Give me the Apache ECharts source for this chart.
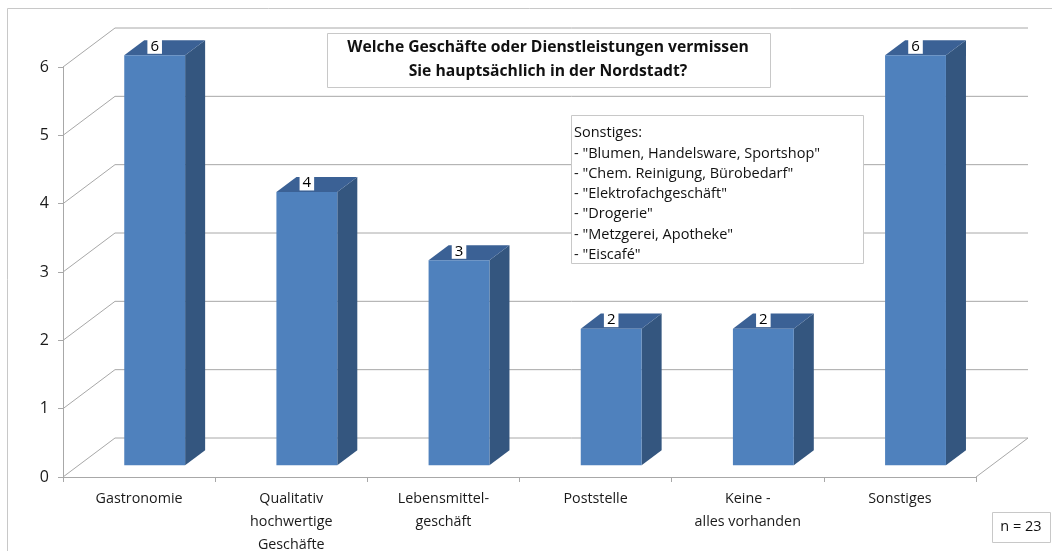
<!DOCTYPE html>
<html>
<head>
<meta charset="utf-8">
<script src="https://cdn.jsdelivr.net/npm/echarts@6/dist/echarts.min.js"></script>
<style>
  html, body { margin: 0; padding: 0; background: #fff; }
  #chart { width: 1052px; height: 551px; }
</style>
</head>
<body>
<div id="chart"></div>
<script>
// data
const categories = [
  'Gastronomie',
  'Qualitativ\nhochwertige\nGeschäfte',
  'Lebensmittel-\ngeschäft',
  'Poststelle',
  'Keine -\nalles vorhanden',
  'Sonstiges'
]
const counts = [6, 4, 3, 2, 2, 6]
const yTicks = [0, 1, 2, 3, 4, 5, 6]

const titleText = 'Welche Geschäfte oder Dienstleistungen vermissen\nSie hauptsächlich in der Nordstadt?'
const noteLines = [
  'Sonstiges:',
  '- "Blumen, Handelsware, Sportshop"',
  '- "Chem. Reinigung, Bürobedarf"',
  '- "Elektrofachgeschäft"',
  '- "Drogerie"',
  '- "Metzgerei, Apotheke"',
  '- "Eiscafé"'
]
const sampleText = 'n = 23'

// fake 3d depth of the plot (pixels)
const DX = 52
const DY = -39
const BAR_FRONT = 0.3   // where the bar front face sits in depth
const BAR_DEPTH = 0.385 // bar depth as part of the full depth
const FONT = '"Open Sans", Lato, sans-serif'
const GRID_COLOR = '#a8a8a8'
const BOX_Z = 100

const chart = echarts.init(document.getElementById('chart'))

const renderWalls = (params, api) => {
  const v = api.value(1)
  const cs = params.coordSys
  const y = api.coord([0, v])[1]
  const x0 = cs.x
  const x1 = cs.x + cs.width
  const children = [
    // back wall line
    { type: 'line', shape: { x1: x0 + DX, y1: y + DY, x2: x1 + DX, y2: y + DY },
      style: { stroke: GRID_COLOR, lineWidth: 1 } },
    // side wall line
    { type: 'line', shape: { x1: x0, y1: y, x2: x0 + DX, y2: y + DY },
      style: { stroke: GRID_COLOR, lineWidth: 1 } }
  ]
  if (v === 0) {
    children.push({ type: 'line', shape: { x1: x1, y1: y, x2: x1 + DX, y2: y + DY },
      style: { stroke: GRID_COLOR, lineWidth: 1 } })
  }
  return { type: 'group', children }
}

const renderBar = (params, api) => {
  const i = api.value(0)
  const v = api.value(1)
  const base = api.coord([i, 0])
  const top = api.coord([i, v])
  const bw = api.size([1, 0])[0]
  const w = bw * 0.4
  const ox = BAR_FRONT * DX
  const oy = BAR_FRONT * DY
  const dx = BAR_DEPTH * DX
  const dy = BAR_DEPTH * DY
  const xl = base[0] - w / 2 + ox
  const xr = base[0] + w / 2 + ox
  const yb = base[1] + oy
  const yt = top[1] + oy
  return {
    type: 'group',
    children: [
      { type: 'polygon', shape: { points: [[xr, yt], [xr + dx, yt + dy], [xr + dx, yb + dy], [xr, yb]] },
        style: { fill: '#34567f' } },
      { type: 'polygon', shape: { points: [[xl, yt], [xl + dx, yt + dy], [xr + dx, yt + dy], [xr, yt]] },
        style: { fill: '#3b6195' } },
      { type: 'rect', shape: { x: xl, y: yt, width: xr - xl, height: yb - yt },
        style: { fill: '#4f81bd' } },
      { type: 'text', x: base[0] + ox, y: yt - 9,
        style: { text: String(v), fill: '#000', font: '15px ' + FONT, align: 'center',
          verticalAlign: 'middle', backgroundColor: '#fff', padding: [0, 3, 0, 3] } }
    ]
  }
}

const option = {
  animation: false,
  backgroundColor: '#fff',
  grid: { left: 63, top: 67, width: 913, height: 410, outerBoundsMode: 'none', containLabel: false },
  xAxis: {
    type: 'category',
    data: categories,
    axisLine: { lineStyle: { color: GRID_COLOR } },
    axisTick: { show: true, length: 5, lineStyle: { color: GRID_COLOR } },
    axisLabel: { color: '#1a1a1a', fontSize: 14.3, fontFamily: FONT, lineHeight: 23, margin: 10, interval: 0 }
  },
  yAxis: {
    type: 'value',
    min: 0,
    max: 6,
    interval: 1,
    axisLine: { show: true, lineStyle: { color: GRID_COLOR } },
    axisTick: { show: true, length: 5, lineStyle: { color: GRID_COLOR } },
    axisLabel: { color: '#1a1a1a', fontSize: 16, fontFamily: FONT, margin: 14 },
    splitLine: { show: false }
  },
  series: [
    {
      type: 'custom',
      renderItem: renderWalls,
      data: yTicks.map(v => [0, v]),
      silent: true,
      z: 1
    },
    {
      type: 'custom',
      renderItem: renderBar,
      data: counts.map((v, i) => [i, v]),
      z: 2
    }
  ],
  graphic: [
    { type: 'line', shape: { x1: 7.5, y1: 8.5, x2: 1052, y2: 8.5 }, style: { stroke: '#c8c8c8', lineWidth: 1 } },
    { type: 'line', shape: { x1: 7.5, y1: 8.5, x2: 7.5, y2: 551 }, style: { stroke: '#c8c8c8', lineWidth: 1 } },
    { type: 'rect', shape: { x: 327.5, y: 33.5, width: 443, height: 54 }, z: BOX_Z,
      style: { fill: '#fff', stroke: '#c8c8c8', lineWidth: 1 } },
    { type: 'text', x: 548, y: 60, z: BOX_Z + 1,
      style: { text: titleText, font: 'bold 15.7px ' + FONT, fill: '#111', align: 'center',
        verticalAlign: 'middle', lineHeight: 24 } },
    { type: 'rect', shape: { x: 571.5, y: 115.5, width: 292, height: 148 }, z: BOX_Z,
      style: { fill: '#fff', stroke: '#c8c8c8', lineWidth: 1 } },
    { type: 'text', x: 574, y: 123, z: BOX_Z + 1,
      style: { text: noteLines.join('\n'), font: '14.5px ' + FONT, fill: '#111', align: 'left',
        verticalAlign: 'top', lineHeight: 20.3 } },
    { type: 'rect', shape: { x: 992.5, y: 512.5, width: 58, height: 30 }, z: BOX_Z,
      style: { fill: '#fff', stroke: '#c8c8c8', lineWidth: 1 } },
    { type: 'text', x: 1021, y: 527, z: BOX_Z + 1,
      style: { text: sampleText, font: '14.5px ' + FONT, fill: '#111', align: 'center',
        verticalAlign: 'middle' } }
  ]
}

chart.setOption(option)
window.addEventListener('resize', () => chart.resize())
</script>
</body>
</html>
